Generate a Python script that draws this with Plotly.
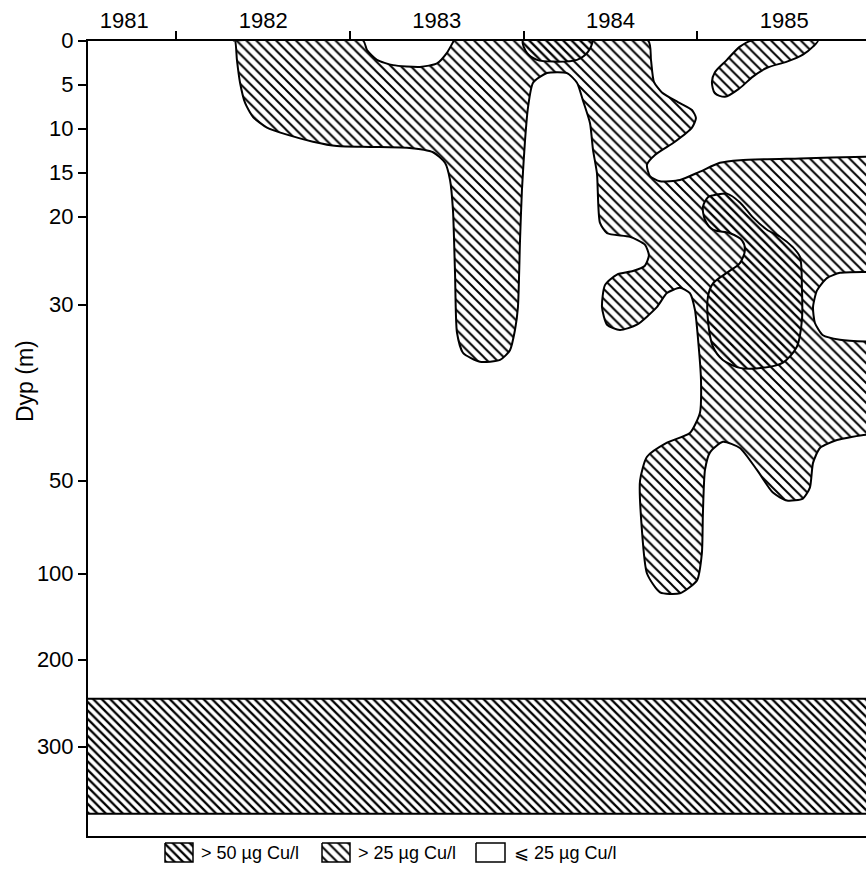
import numpy as np
import plotly.graph_objects as go

# ---------------------------------------------------------------
# Depth axis: linear down to 50 m, compressed below that
# ---------------------------------------------------------------
DEPTH_KNOTS = [0, 50, 100, 200, 300, 400]
AXIS_POS = [0, 440, 533, 619, 706, 795.5]

DEPTH_TICKS = [0, 5, 10, 15, 20, 30, 50, 100, 200, 300]
YEAR_LABELS = ["1981", "1982", "1983", "1984", "1985"]
YEAR_LABEL_AT = [1981.7, 1982.5, 1983.5, 1984.5, 1985.5]
YEAR_BOUNDS = [1982, 1983, 1984, 1985]
TIME_RANGE = [1981.4916, 1985.971]

# ---------------------------------------------------------------
# Zones with > 25 ug Cu/l  (time in years, depth in m)
# ---------------------------------------------------------------
cu25_main_t = [
    1982.326, 1983.075, 1983.098, 1983.155, 1983.248, 1983.403, 1983.501, 1983.558,
    1983.593, 1983.599, 1984.716, 1984.733, 1984.750, 1984.796, 1984.888, 1984.969,
    1984.992, 1984.969, 1984.871, 1984.756, 1984.710, 1984.727, 1984.785, 1984.900,
    1985.015, 1985.130, 1985.245, 1985.591, 1985.971, 1986.051, 1986.051, 1985.971,
    1985.821, 1985.746, 1985.689, 1985.666, 1985.677, 1985.723, 1985.821, 1985.971,
    1986.051, 1986.051, 1985.971, 1985.804, 1985.706, 1985.666, 1985.648, 1985.608,
    1985.516, 1985.435, 1985.343, 1985.245, 1985.147, 1985.073, 1985.044, 1985.032,
    1985.026, 1984.998, 1984.900, 1984.785, 1984.710, 1984.681, 1984.670, 1984.710,
    1984.825, 1984.957, 1985.015, 1985.021, 1985.003, 1984.986, 1984.957, 1984.900,
    1984.825, 1984.767, 1984.652, 1984.554, 1984.480, 1984.451, 1984.468, 1984.537,
    1984.629, 1984.698, 1984.721, 1984.698, 1984.612, 1984.480, 1984.439, 1984.422,
    1984.399, 1984.382, 1984.341, 1984.307, 1984.249, 1984.134, 1984.054, 1984.025,
    1984.008, 1983.990, 1983.979, 1983.967, 1983.950, 1983.921, 1983.864, 1983.748,
    1983.651, 1983.616, 1983.605, 1983.593, 1983.576, 1983.547, 1983.478, 1983.328,
    1983.115, 1982.925, 1982.787, 1982.637, 1982.522, 1982.442, 1982.396, 1982.367,
    1982.349, 1982.338, 1982.326,
]
cu25_main_d = [
    0.0, 0.0, 1.1, 2.2, 2.8, 3.0, 2.6, 1.4,
    0.2, 0.0, 0.0, 2.2, 4.7, 5.9, 7.0, 7.9,
    8.8, 9.9, 11.5, 13.0, 14.1, 15.4, 16.0, 15.85,
    14.9, 13.9, 13.6, 13.4, 13.2, 13.2, 26.3, 26.3,
    26.4, 27.0, 28.4, 30.3, 32.1, 33.5, 34.0, 34.2,
    34.2, 44.8, 44.8, 45.4, 46.3, 48.0, 53.8, 59.7,
    60.8, 56.5, 48.8, 46.3, 45.6, 46.8, 48.8, 67.7,
    89.2, 108.0, 123.0, 122.0, 100.0, 76.9, 50.0, 47.3,
    45.7, 44.6, 42.3, 38.6, 33.7, 30.6, 28.7, 28.1,
    28.7, 30.3, 32.3, 32.9, 32.3, 30.3, 27.8, 26.6,
    26.2, 25.6, 24.4, 23.2, 22.3, 21.9, 20.7, 15.1,
    12.4, 9.4, 6.8, 4.8, 3.7, 3.7, 4.8, 7.6,
    11.3, 17.0, 22.7, 30.3, 32.9, 35.2, 36.3, 36.5,
    35.5, 33.2, 26.6, 19.3, 15.85, 13.9, 12.7, 12.2,
    12.1, 12.0, 11.5, 10.7, 9.9, 8.7, 7.1, 4.8,
    2.2, 0.0, 0.0,
]

cu25_top_t = [1985.314, 1985.245, 1985.170, 1985.101, 1985.084, 1985.101, 1985.159,
              1985.245, 1985.320, 1985.401, 1985.516, 1985.608, 1985.666, 1985.694,
              1985.314]
cu25_top_d = [0.0, 0.7, 2.2, 3.6, 4.7, 6.0, 6.4, 5.4, 4.1, 3.1, 2.4, 1.6, 0.7, 0.0, 0.0]

# ---------------------------------------------------------------
# Zones with > 50 ug Cu/l
# ---------------------------------------------------------------
cu50_top_t = [1983.996, 1984.019, 1984.077, 1984.169, 1984.307, 1984.370, 1984.393, 1983.996]
cu50_top_d = [0.0, 1.4, 2.2, 2.4, 2.2, 1.3, 0.0, 0.0]

cu50_mid_t = [1985.090, 1985.170, 1985.245, 1985.320, 1985.401, 1985.476, 1985.550,
              1985.591, 1985.602, 1985.602, 1985.573, 1985.493, 1985.378, 1985.245,
              1985.147, 1985.090, 1985.061, 1985.061, 1985.090, 1985.170, 1985.245,
              1985.274, 1985.257, 1985.188, 1985.090, 1985.044, 1985.032, 1985.061,
              1985.090]
cu50_mid_d = [17.6, 17.4, 18.4, 20.1, 21.5, 22.3, 23.5,
              24.6, 28.0, 31.8, 34.8, 36.6, 37.2, 37.2,
              36.3, 34.8, 31.8, 29.1, 27.6, 26.4, 25.3,
              23.8, 22.7, 21.9, 21.5, 20.4, 18.9, 17.8,
              17.6]

# deep water layer (> 50 ug Cu/l across the whole period)
deep_top_m = 245
deep_bottom_m = 375


def ypos(depths):
    """Depth in metres -> position on the broken depth axis."""
    return [float(np.interp(d, DEPTH_KNOTS, AXIS_POS)) for d in depths]


FONT = "Liberation Sans, Arial, Helvetica, sans-serif"
PAT25 = dict(shape="\\", size=7, solidity=0.28, fgcolor="black", bgcolor="white", fillmode="replace")
PAT50 = dict(shape="\\", size=6, solidity=0.38, fgcolor="black", bgcolor="white", fillmode="replace")

fig = go.Figure()


def zone(t, d, pattern, smooth=0.7, width=2.0):
    fig.add_trace(go.Scatter(
        x=t, y=ypos(d), mode="lines", fill="toself",
        fillpattern=pattern, fillcolor="white",
        line=dict(color="black", width=width, shape="spline", smoothing=smooth),
        hoverinfo="skip", showlegend=False,
    ))


zone(cu25_main_t, cu25_main_d, PAT25, smooth=0.6)
zone(cu25_top_t, cu25_top_d, PAT25, smooth=0.8)
zone(cu50_top_t, cu50_top_d, PAT50, smooth=0.8)
zone(cu50_mid_t, cu50_mid_d, PAT50, smooth=0.8)

# deep layer band
band_t = [TIME_RANGE[0] - 0.1, TIME_RANGE[1] + 0.1, TIME_RANGE[1] + 0.1, TIME_RANGE[0] - 0.1, TIME_RANGE[0] - 0.1]
band_d = [deep_top_m, deep_top_m, deep_bottom_m, deep_bottom_m, deep_top_m]
fig.add_trace(go.Scatter(
    x=band_t, y=ypos(band_d), mode="lines", fill="toself",
    fillpattern=PAT50, fillcolor="white",
    line=dict(color="black", width=2), hoverinfo="skip", showlegend=False,
))

# ---------------------------------------------------------------
# Key below the chart (drawn on a full-page helper axis, in px)
# ---------------------------------------------------------------
W, H = 866, 876
key_labels = ["> 50 µg Cu/l", "> 25 µg Cu/l", "⩽ 25 µg Cu/l"]
key_patterns = [PAT50, PAT25, None]
key_box_x = [(165, 193), (322, 350), (476, 505)]
key_box_y = (843, 862)
key_text_x = [199, 356, 512]

for (x0, x1), pat, lab, tx in zip(key_box_x, key_patterns, key_labels, key_text_x):
    y0, y1 = key_box_y
    fig.add_trace(go.Scatter(
        x=[x0, x1, x1, x0, x0], y=[y0, y0, y1, y1, y0],
        xaxis="x2", yaxis="y2", mode="lines", fill="toself",
        fillpattern=pat if pat else None, fillcolor="white",
        line=dict(color="black", width=1.5), hoverinfo="skip", showlegend=False,
    ))
    fig.add_annotation(x=tx, y=(y0 + y1) / 2, xref="x2", yref="y2", text=lab,
                       showarrow=False, xanchor="left", yanchor="middle",
                       font=dict(family=FONT, size=18, color="black"))

fig.add_annotation(x=25 / W, y=1 - 381 / H, xref="paper", yref="paper",
                   text="Dyp (m)", textangle=-90, showarrow=False,
                   xanchor="center", yanchor="middle",
                   font=dict(family=FONT, size=23, color="black"))

fig.update_layout(
    width=W, height=H,
    margin=dict(l=0, r=0, t=0, b=0),
    paper_bgcolor="white", plot_bgcolor="rgba(0,0,0,0)",
    font=dict(family=FONT, size=22, color="black"),
    showlegend=False,
    xaxis=dict(
        domain=[88 / W, 1], range=TIME_RANGE, side="top",
        tickmode="array", tickvals=YEAR_LABEL_AT, ticktext=YEAR_LABELS,
        tickfont=dict(family=FONT, size=22, color="black"),
        ticks="", ticklabelstandoff=2,
        minor=dict(tickmode="array", tickvals=YEAR_BOUNDS, ticks="outside",
                   ticklen=8, tickwidth=1.5, tickcolor="black", showgrid=False),
        showline=True, linecolor="black", linewidth=2, mirror=True,
        showgrid=False, zeroline=False, automargin=False, fixedrange=True,
        anchor="y",
    ),
    yaxis=dict(
        domain=[1 - 836 / H, 1 - 40.5 / H], range=[AXIS_POS[-1], 0],
        tickmode="array", tickvals=ypos(DEPTH_TICKS), ticktext=[str(v) for v in DEPTH_TICKS],
        tickfont=dict(family=FONT, size=22, color="black"),
        ticks="outside", ticklen=8, tickwidth=1.5, tickcolor="black",
        showline=True, linecolor="black", linewidth=2, mirror=False,
        showgrid=False, zeroline=False, automargin=False, fixedrange=True,
        anchor="x",
    ),
    xaxis2=dict(domain=[0, 1], range=[0, W], visible=False, anchor="y2", fixedrange=True),
    yaxis2=dict(domain=[0, 1], range=[H, 0], visible=False, anchor="x2", fixedrange=True),
)

fig.write_html("out.html")
